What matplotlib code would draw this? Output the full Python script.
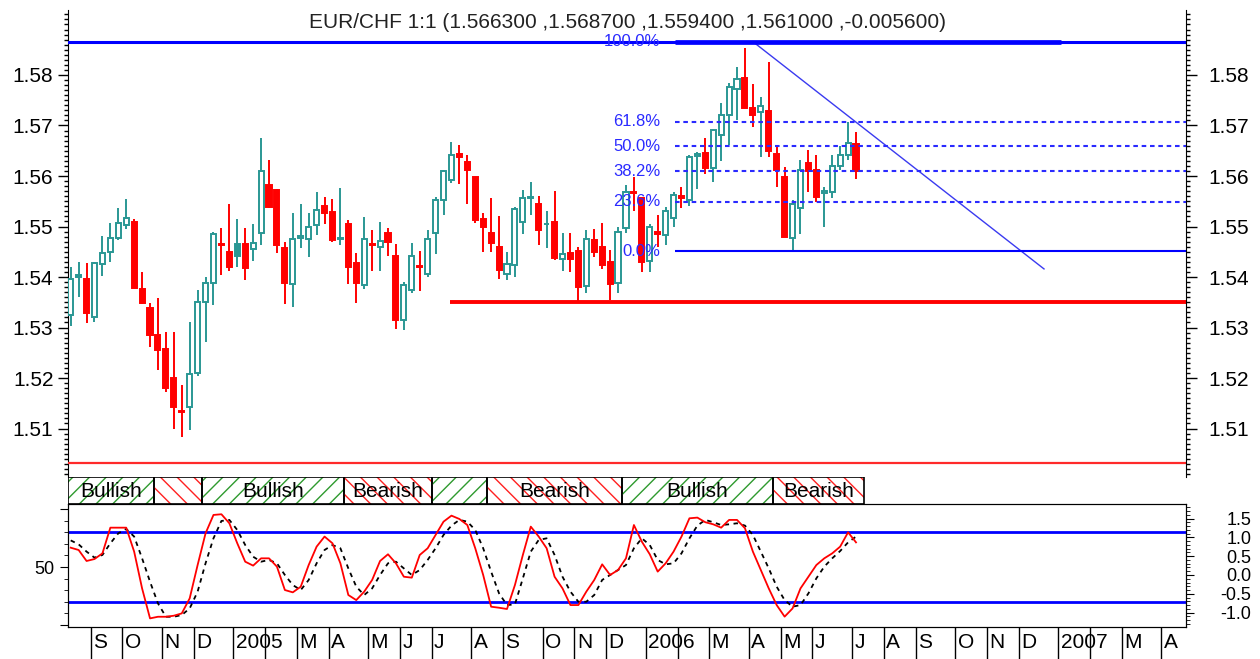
import numpy as np
import pandas as pd
import matplotlib
matplotlib.use("Agg")
import matplotlib.pyplot as plt
import matplotlib.transforms as mtransforms
from matplotlib.patches import Rectangle
from matplotlib.ticker import MultipleLocator, FixedLocator, FuncFormatter

plt.rcParams['font.family'] = ['Liberation Sans', 'DejaVu Sans']

# weekly bars (Fridays), first bar
start_date = "2004-08-13"

opens = [1.5325, 1.5404, 1.5397, 1.5321, 1.5426, 1.5450, 1.5478, 1.5503, 1.5508, 1.5376,
         1.5338, 1.5285, 1.5257, 1.5201, 1.5135, 1.5142, 1.5209, 1.5351, 1.5389, 1.5466,
         1.5449, 1.5465, 1.5465, 1.5455, 1.5488, 1.5583, 1.5573, 1.5457, 1.5386, 1.5478,
         1.5476, 1.5503, 1.5541, 1.5529, 1.5475, 1.5505, 1.5427, 1.5384, 1.5465, 1.5459,
         1.5488, 1.5442, 1.5315, 1.5374, 1.5422, 1.5406, 1.5488, 1.5552, 1.5592, 1.5643,
         1.5628, 1.5599, 1.5514, 1.5488, 1.5459, 1.5406, 1.5424, 1.5508, 1.5557, 1.5545,
         1.5504, 1.5508, 1.5435, 1.5448, 1.5452, 1.5382, 1.5474, 1.5460, 1.5430, 1.5389,
         1.5497, 1.5569, 1.5557, 1.5431, 1.5489, 1.5483, 1.5516, 1.5560, 1.5553, 1.5640,
         1.5645, 1.5615, 1.5682, 1.5721, 1.5772, 1.5795, 1.5735, 1.5726, 1.5729, 1.5643,
         1.5599, 1.5478, 1.5536, 1.5625, 1.5612, 1.5567, 1.5568, 1.5620, 1.5641, 1.5663]
highs = [1.5420, 1.5430, 1.5427, 1.5430, 1.5481, 1.5507, 1.5536, 1.5554, 1.5514, 1.5410,
         1.5348, 1.5358, 1.5292, 1.5292, 1.5186, 1.5311, 1.5374, 1.5401, 1.5490, 1.5498,
         1.5545, 1.5514, 1.5498, 1.5505, 1.5675, 1.5632, 1.5574, 1.5470, 1.5527, 1.5545,
         1.5526, 1.5569, 1.5559, 1.5554, 1.5577, 1.5513, 1.5447, 1.5518, 1.5493, 1.5508,
         1.5498, 1.5465, 1.5391, 1.5468, 1.5452, 1.5494, 1.5559, 1.5611, 1.5668, 1.5661,
         1.5642, 1.5599, 1.5527, 1.5556, 1.5521, 1.5450, 1.5539, 1.5572, 1.5589, 1.5560,
         1.5531, 1.5571, 1.5488, 1.5488, 1.5459, 1.5494, 1.5496, 1.5506, 1.5453, 1.5500,
         1.5582, 1.5599, 1.5557, 1.5504, 1.5523, 1.5539, 1.5569, 1.5579, 1.5641, 1.5647,
         1.5675, 1.5694, 1.5744, 1.5785, 1.5816, 1.5854, 1.5783, 1.5757, 1.5825, 1.5658,
         1.5618, 1.5552, 1.5632, 1.5651, 1.5641, 1.5579, 1.5641, 1.5660, 1.5706, 1.5687]
lows = [1.5303, 1.5361, 1.5308, 1.5311, 1.5402, 1.5430, 1.5473, 1.5496, 1.5379, 1.5347,
        1.5262, 1.5216, 1.5173, 1.5100, 1.5084, 1.5097, 1.5203, 1.5272, 1.5345, 1.5404,
        1.5412, 1.5419, 1.5395, 1.5432, 1.5463, 1.5536, 1.5447, 1.5346, 1.5340, 1.5457,
        1.5440, 1.5483, 1.5505, 1.5470, 1.5463, 1.5386, 1.5349, 1.5376, 1.5411, 1.5412,
        1.5442, 1.5298, 1.5295, 1.5369, 1.5373, 1.5400, 1.5446, 1.5523, 1.5587, 1.5584,
        1.5545, 1.5506, 1.5450, 1.5450, 1.5397, 1.5395, 1.5401, 1.5485, 1.5523, 1.5463,
        1.5457, 1.5434, 1.5411, 1.5409, 1.5351, 1.5368, 1.5440, 1.5415, 1.5354, 1.5368,
        1.5488, 1.5530, 1.5410, 1.5410, 1.5460, 1.5463, 1.5500, 1.5536, 1.5540, 1.5575,
        1.5603, 1.5589, 1.5630, 1.5661, 1.5711, 1.5735, 1.5698, 1.5638, 1.5638, 1.5579,
        1.5480, 1.5451, 1.5486, 1.5569, 1.5549, 1.5500, 1.5556, 1.5612, 1.5632, 1.5594]
closes = [1.5396, 1.5401, 1.5328, 1.5428, 1.5448, 1.5478, 1.5506, 1.5516, 1.5379, 1.5349,
          1.5285, 1.5255, 1.5180, 1.5142, 1.5133, 1.5208, 1.5351, 1.5389, 1.5486, 1.5464,
          1.5419, 1.5442, 1.5418, 1.5468, 1.5609, 1.5539, 1.5463, 1.5389, 1.5475, 1.5481,
          1.5500, 1.5533, 1.5526, 1.5473, 1.5477, 1.5419, 1.5389, 1.5475, 1.5463, 1.5471,
          1.5470, 1.5314, 1.5384, 1.5442, 1.5420, 1.5475, 1.5552, 1.5609, 1.5642, 1.5637,
          1.5611, 1.5513, 1.5500, 1.5468, 1.5414, 1.5426, 1.5534, 1.5556, 1.5559, 1.5493,
          1.5505, 1.5437, 1.5446, 1.5435, 1.5380, 1.5475, 1.5450, 1.5424, 1.5387, 1.5490,
          1.5569, 1.5567, 1.5430, 1.5500, 1.5486, 1.5531, 1.5562, 1.5557, 1.5638, 1.5643,
          1.5615, 1.5691, 1.5721, 1.5777, 1.5793, 1.5735, 1.5721, 1.5738, 1.5650, 1.5612,
          1.5480, 1.5544, 1.5612, 1.5610, 1.5559, 1.5570, 1.5620, 1.5641, 1.5666, 1.5610]

# oscillator (left scale 0..100)
osc_fast = [66.7, 64.7, 55.2, 56.9, 61.8, 84.0, 84.0, 84.0, 63.3, 31.5,
            5.6, 7.0, 7.0, 7.9, 9.9, 22.9, 51.7, 79.1, 95.0, 95.6,
            87.8, 70.5, 54.6, 51.2, 57.5, 57.5, 50.3, 30.1, 28.1, 33.0,
            51.7, 67.6, 76.3, 70.5, 53.2, 25.8, 21.4, 28.7, 38.8, 55.2,
            61.0, 53.2, 41.6, 40.8, 60.4, 66.2, 77.7, 89.2, 94.4, 91.5,
            86.3, 66.2, 43.1, 15.7, 14.8, 13.7, 34.4, 60.4, 84.9, 76.3,
            66.2, 41.6, 31.5, 17.1, 17.1, 28.7, 38.8, 52.3, 43.1, 47.4,
            57.5, 86.3, 71.9, 61.0, 46.0, 53.2, 63.3, 76.3, 92.1, 92.7,
            88.7, 86.9, 84.0, 90.7, 90.7, 83.5, 63.3, 47.4, 31.5, 17.1,
            7.1, 14.2, 31.5, 41.6, 51.7, 57.5, 61.8, 67.6, 80.0, 71.3]
osc_slow = [73.0, 69.6, 63.3, 58.1, 60.4, 70.5, 79.1, 82.9, 76.3, 57.5,
            37.3, 18.6, 7.0, 7.0, 8.5, 14.2, 28.7, 53.2, 74.8, 89.8,
            90.7, 82.0, 69.0, 58.9, 54.6, 56.1, 53.2, 43.1, 34.4, 30.1,
            38.8, 53.2, 64.7, 69.0, 66.2, 48.8, 33.0, 25.8, 31.5, 43.1,
            53.2, 54.6, 48.8, 43.1, 47.4, 56.1, 66.2, 77.7, 85.8, 90.7,
            89.2, 82.0, 66.2, 46.0, 27.2, 17.1, 17.7, 40.2, 63.3, 73.4,
            74.8, 60.4, 41.6, 28.7, 20.0, 20.0, 25.8, 38.8, 43.1, 47.4,
            51.7, 66.2, 74.8, 69.0, 56.1, 52.3, 53.2, 61.8, 74.8, 85.8,
            90.7, 88.7, 86.3, 86.9, 87.8, 85.8, 77.7, 63.3, 48.8, 33.0,
            21.4, 15.7, 17.1, 27.2, 40.2, 50.3, 57.5, 63.8, 71.3, 76.3]
osc_upper, osc_lower = 80, 20

# drawing objects
fib_low, fib_high = 1.5451, 1.5866
fib_levels = [0.0, 0.236, 0.382, 0.5, 0.618, 1.0]
fib_labels = ["0.0%", "23.6%", "38.2%", "50.0%", "61.8%", "100.0%"]
fib_start, fib_top_end = 76.2, 124.9
trend_x = [86.0, 122.7]
trend_y = [1.5866, 1.5416]
support_level, support_start = 1.5350, 47.8
floor_level = 1.5031

# signal band: (from bar, to bar, text, kind)
signals = [(-0.34, 10.5, "Bullish", "bull"), (10.5, 16.5, "", "bear"),
           (16.5, 34.5, "Bullish", "bull"), (34.5, 45.5, "Bearish", "bear"),
           (45.5, 52.5, "", "bull"), (52.5, 69.5, "Bearish", "bear"),
           (69.5, 88.5, "Bullish", "bull"), (88.5, 100.0, "Bearish", "bear")]

TEAL = "#2a9794"
RED = "#ff0000"
BLUE = "#0000ff"
FIB_BLUE = "#2a2aff"

n_bars = len(closes)
x_left, x_right = -0.34, 140.6

fig = plt.figure(figsize=(12.6, 6.59), dpi=100)
ax = fig.add_axes([0.05397, 0.27618, 0.8873, 0.70865])
ax_band = fig.add_axes([0.05397, 0.23521, 0.8873, 0.04097], sharex=ax)
ax_osc = fig.add_axes([0.05397, 0.04856, 0.8873, 0.18665], sharex=ax)

# ---- candles
for i in range(n_bars):
    o, h, l, c = opens[i], highs[i], lows[i], closes[i]
    prev = closes[i - 1] if i > 0 else o
    col = TEAL if c >= prev else RED
    ax.vlines(i, l, h, color=col, lw=1.4, zorder=2)
    lo, hi = min(o, c), max(o, c)
    face = col if c < o else "white"
    ax.add_patch(Rectangle((i - 0.32, lo), 0.64, max(hi - lo, 0.00012),
                           facecolor=face, edgecolor=col, lw=1.4, zorder=3))

# ---- lines
ax.axhline(fib_high, color=BLUE, lw=2.2, zorder=4)
ax.axhline(floor_level, color="#ff2a2a", lw=1.6, zorder=4)
ax.hlines(support_level, support_start, x_right, color=RED, lw=2.8, zorder=4)
ax.plot(trend_x, trend_y, color="#3a3af0", lw=1.0, zorder=4)

for lev, lab in zip(fib_levels, fib_labels):
    p = fib_low + lev * (fib_high - fib_low)
    if lev == 1.0:
        ax.hlines(p, fib_start, fib_top_end, color=BLUE, lw=3.4, zorder=4)
    elif lev == 0.0:
        ax.hlines(p, fib_start, x_right, color=BLUE, lw=1.5, zorder=4)
    else:
        ax.plot([fib_start, x_right], [p, p], color=FIB_BLUE, lw=1.5,
                dashes=(2.2, 1.8), zorder=4)
    ax.text(fib_start - 1.9, p, lab, ha="right", va="center",
            color=FIB_BLUE, fontsize=12, zorder=5)

title = "EUR/CHF 1:1 ({:.6f} ,{:.6f} ,{:.6f} ,{:.6f} ,{:.6f})".format(
    opens[-1], highs[-1], lows[-1], closes[-1], closes[-1] - closes[-2])
ax.text(0.5, 0.974, title, transform=ax.transAxes, ha="center", va="center",
        fontsize=15, color="#222222")

ax.set_xlim(x_left, x_right)
ax.set_ylim(1.5004, 1.59287)
for s in ("top", "bottom", "right"):
    ax.spines[s].set_visible(False)
price_ticks = [1.51, 1.52, 1.53, 1.54, 1.55, 1.56, 1.57, 1.58]
ax.yaxis.set_major_locator(FixedLocator(price_ticks))
ax.yaxis.set_minor_locator(MultipleLocator(0.001))
ax.yaxis.set_major_formatter(FuncFormatter(lambda v, _: "%.2f" % v))
ax.tick_params(axis="y", which="major", length=7, width=1, labelsize=15)
ax.tick_params(axis="y", which="minor", length=3, width=1)
ax.tick_params(axis="x", which="both", bottom=False, labelbottom=False)

ax_r = ax.twinx()
ax_r.set_ylim(ax.get_ylim())
for s in ("top", "bottom", "left"):
    ax_r.spines[s].set_visible(False)
ax_r.yaxis.set_major_locator(FixedLocator(price_ticks))
ax_r.yaxis.set_minor_locator(MultipleLocator(0.001))
ax_r.yaxis.set_major_formatter(FuncFormatter(lambda v, _: "%.2f" % v))
ax_r.tick_params(axis="y", which="major", length=8, width=1, labelsize=15, pad=8)
ax_r.tick_params(axis="y", which="minor", length=3, width=1)
ax_r.tick_params(axis="x", which="both", bottom=False, labelbottom=False)

# ---- signal band
hatch_colors = {"bull": "#2e9a2e", "bear": "#ff2020"}
hatch_style = {"bull": "//", "bear": "\\\\"}
for x0, x1, lab, kind in signals:
    ax_band.add_patch(Rectangle((x0, 0), x1 - x0, 1, facecolor="none",
                                edgecolor=hatch_colors[kind], hatch=hatch_style[kind], lw=0))
    ax_band.add_patch(Rectangle((x0, 0), x1 - x0, 1, facecolor="none",
                                edgecolor="black", lw=1.2))
    if lab:
        ax_band.text((x0 + x1) / 2, 0.45, lab, ha="center", va="center", fontsize=15)
ax_band.set_ylim(0, 1)
ax_band.axis("off")

# ---- oscillator
idx = np.arange(n_bars)
ax_osc.axhline(osc_upper, color=BLUE, lw=2, zorder=2)
ax_osc.axhline(osc_lower, color=BLUE, lw=2, zorder=2)
ax_osc.plot(idx, osc_slow, color="black", lw=1.3, dashes=(2.5, 2.5), zorder=3)
ax_osc.plot(idx, osc_fast, color=RED, lw=1.3, zorder=4)
ax_osc.set_ylim(-1.85, 104.46)
ax_osc.yaxis.set_major_locator(FixedLocator([0, 50, 100]))
ax_osc.yaxis.set_major_formatter(FuncFormatter(lambda v, _: "50" if v == 50 else ""))
ax_osc.yaxis.set_minor_locator(MultipleLocator(10))
ax_osc.tick_params(axis="y", which="major", length=6, labelsize=13)
ax_osc.tick_params(axis="y", which="minor", length=3)

ax_osc_r = ax_osc.twinx()
ax_osc_r.set_ylim(-1.383, 1.888)
ax_osc_r.yaxis.set_major_locator(FixedLocator([-1.0, -0.5, 0.0, 0.5, 1.0, 1.5]))
ax_osc_r.yaxis.set_minor_locator(MultipleLocator(0.1))
ax_osc_r.yaxis.set_major_formatter(FuncFormatter(lambda v, _: "%.1f" % v))
ax_osc_r.tick_params(axis="y", which="major", length=6, labelsize=13, pad=41)
ax_osc_r.tick_params(axis="y", which="minor", length=3)
for t in ax_osc_r.get_yticklabels():
    t.set_horizontalalignment("right")

# month separators and labels along the bottom
dates = pd.date_range(start_date, periods=int(x_right) + 1, freq="7D")
bounds, labels = [], []
for k in range(1, len(dates)):
    if dates[k].month != dates[k - 1].month:
        bounds.append(k - 0.5)
        m = dates[k].month
        if m == 1:
            labels.append(str(dates[k].year))
        elif m == 2:
            labels.append("")
        else:
            labels.append("JFMAMJJASOND"[m - 1])
ax_osc.set_xticks(bounds)
ax_osc.tick_params(axis="x", which="major", length=23, width=1, labelbottom=False)
blend = mtransforms.blended_transform_factory(ax_osc.transData, ax_osc.transAxes)
for b, lab in zip(bounds, labels):
    if lab:
        ax_osc.text(b + 0.3, -0.13, lab, transform=blend, ha="left", va="center",
                    fontsize=15)
ax_osc.set_xlim(x_left, x_right)

fig.savefig("out.png", dpi=100, facecolor="white")
